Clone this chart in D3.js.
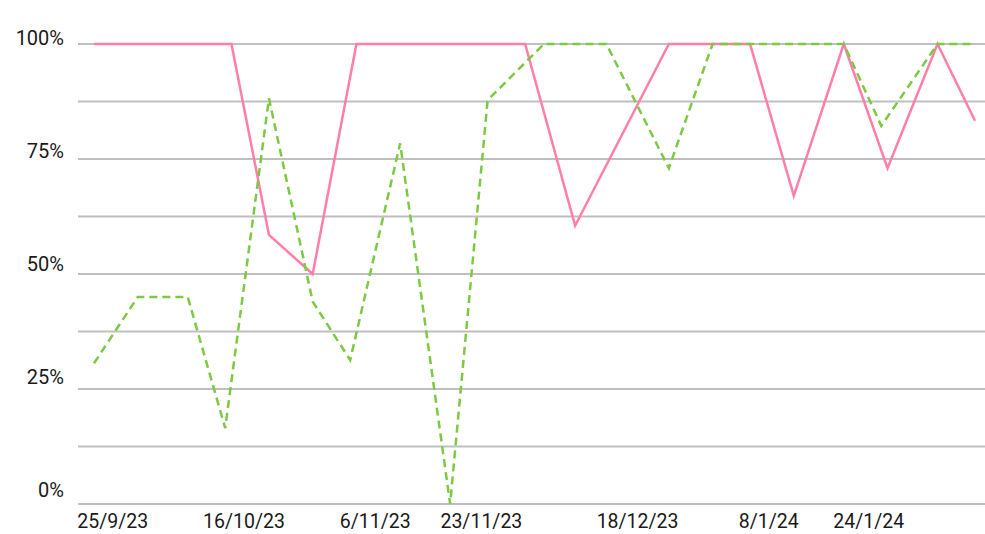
<!DOCTYPE html>
<html>
<head>
<meta charset="utf-8">
<script src="https://cdn.jsdelivr.net/npm/d3@7"></script>
<style>
  html, body { margin: 0; padding: 0; background: #ffffff; }
  svg { display: block; }
  text { font-family: Roboto, "Noto Sans", sans-serif; fill: #1a1a1a; }
</style>
</head>
<body>
<svg id="chart" width="985" height="534"></svg>
<script>
// Sampling dates and shares (%) for the two series
const pinkDates = ["2023-09-22", "2023-09-29", "2023-10-07", "2023-10-14", "2023-10-20", "2023-10-27",
  "2023-11-03", "2023-11-10", "2023-11-18", "2023-11-24", "2023-11-30", "2023-12-08", "2023-12-23",
  "2023-12-30", "2024-01-05", "2024-01-12", "2024-01-20", "2024-01-27", "2024-02-04", "2024-02-10"];
const pinkValues = [100, 100, 100, 100, 58.5, 50,
  100, 100, 100, 100, 100, 60.5, 100,
  100, 100, 67, 100, 73, 100, 83.3];

const greenDates = ["2023-09-22", "2023-09-29", "2023-10-07", "2023-10-13", "2023-10-20", "2023-10-27",
  "2023-11-02", "2023-11-10", "2023-11-18", "2023-11-24", "2023-12-03", "2023-12-08", "2023-12-13",
  "2023-12-23", "2023-12-30", "2024-01-06", "2024-01-13", "2024-01-20", "2024-01-26", "2024-02-04",
  "2024-02-10"];
const greenValues = [30.6, 45, 45, 16.5, 88.2, 44,
  31.3, 78.4, 0, 87.8, 100, 100, 100,
  73, 100, 100, 100, 100, 82.2, 100,
  100];

// Axis ticks
const xTickDates = ["2023-09-25", "2023-10-16", "2023-11-06", "2023-11-23", "2023-12-18", "2024-01-08", "2024-01-24"];
const yGridValues = [0, 12.5, 25, 37.5, 50, 62.5, 75, 87.5, 100];
const yLabelValues = [0, 25, 50, 75, 100];

const parse = d3.timeParse("%Y-%m-%d");
const fmtDate = d3.timeFormat("%-d/%-m/%y");

const pink = pinkDates.map((d, i) => ({ date: parse(d), value: pinkValues[i] }));
const green = greenDates.map((d, i) => ({ date: parse(d), value: greenValues[i] }));

const svg = d3.select("#chart");

const allDates = pink.concat(green).map(d => d.date);
const x = d3.scaleTime()
  .domain(d3.extent(allDates))
  .range([94, 975]);

const y = d3.scaleLinear()
  .domain([0, 100])
  .range([504, 44]);

// Label baselines run on a slightly tighter band than the gridlines
const yLabel = y.copy().range([497, 45]);

// Horizontal gridlines
svg.append("g")
  .selectAll("line")
  .data(yGridValues)
  .join("line")
  .attr("x1", 78)
  .attr("x2", 985)
  .attr("y1", d => y(d))
  .attr("y2", d => y(d))
  .attr("stroke", "#bfbfbf")
  .attr("stroke-width", 2);

// Y labels
svg.append("g")
  .selectAll("text")
  .data(yLabelValues)
  .join("text")
  .attr("x", 64)
  .attr("y", d => yLabel(d))
  .attr("text-anchor", "end")
  .attr("font-size", 20)
  .text(d => d + "%");

// X labels
svg.append("g")
  .selectAll("text")
  .data(xTickDates.map(parse))
  .join("text")
  .attr("x", d => x(d))
  .attr("y", 528)
  .attr("text-anchor", "middle")
  .attr("font-size", 19.5)
  .text(d => fmtDate(d));

const line = d3.line()
  .x(d => x(d.date))
  .y(d => y(d.value));

svg.append("path")
  .datum(pink)
  .attr("d", line)
  .attr("fill", "none")
  .attr("stroke", "#ff7eab")
  .attr("stroke-width", 2.5)
  .attr("stroke-linejoin", "miter");

svg.append("path")
  .datum(green)
  .attr("d", line)
  .attr("fill", "none")
  .attr("stroke", "#7cc943")
  .attr("stroke-width", 2.5)
  .attr("stroke-dasharray", "8,5")
  .attr("stroke-linejoin", "miter");
</script>
</body>
</html>
